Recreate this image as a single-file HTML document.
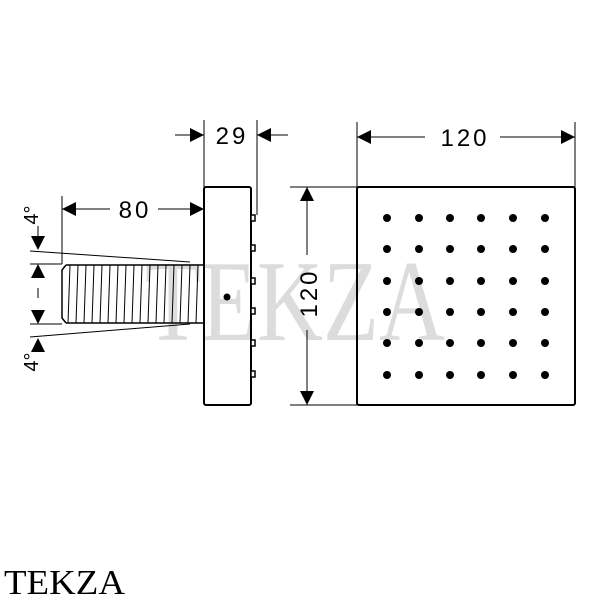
<!DOCTYPE html>
<html><head><meta charset="utf-8"><style>html,body{margin:0;padding:0;background:#fff}</style></head><body>
<svg width="600" height="600" viewBox="0 0 600 600" xmlns="http://www.w3.org/2000/svg" font-family="Liberation Sans, sans-serif">
<defs>
<marker id="a" viewBox="0 0 10 10" refX="10" refY="5" markerWidth="14" markerHeight="14" markerUnits="userSpaceOnUse" orient="auto"><path d="M0,0 L10,5 L0,10 z" fill="#000"/></marker>
<g id="r"><circle cx="387" cy="0" r="4"/><circle cx="419" cy="0" r="4"/><circle cx="450" cy="0" r="4"/><circle cx="481" cy="0" r="4"/><circle cx="513" cy="0" r="4"/><circle cx="545" cy="0" r="4"/></g>
</defs>
<!-- watermark -->
<text x="145" y="340" font-family="Liberation Serif, serif" font-size="115" fill="#dcdcdc" textLength="300" lengthAdjust="spacingAndGlyphs">TEKZA</text>
<g stroke="#000" fill="none" stroke-width="1">
<rect x="204" y="187" width="47" height="218" rx="2" stroke-width="2"/>
<g stroke-width="1.5" fill="#fff">
<rect x="251" y="215" width="4" height="6"/><rect x="251" y="245" width="4" height="6"/><rect x="251" y="278" width="4" height="6"/><rect x="251" y="308" width="4" height="6"/><rect x="251" y="340" width="4" height="6"/><rect x="251" y="371" width="4" height="6"/>
</g>
<path d="M66,265 L204,265 M66,323 L204,323 M66,265 L62,270 L62,318 L66,323" stroke-width="1.5"/>
<path d="M70,265 L68,323 M78,265 L76,323 M86,265 L84,323 M94,265 L92,323 M102,265 L100,323 M110,265 L108,323 M118,265 L116,323 M126,265 L124,323 M134,265 L132,323 M142,265 L140,323 M150,265 L148,323 M158,265 L156,323 M166,265 L164,323 M174,265 L172,323 M182,265 L180,323 M190,265 L188,323 M198,265 L196,323"/>
<path d="M30,251 L190,262 M30,337 L190,324"/>
<path d="M30,264 L62,264 M30,324 L62,324"/>
<path d="M38,226 L38,236 M38,288 L38,298"/>
<path d="M62,196 L62,264"/>
<line x1="110" y1="209" x2="62" y2="209" marker-end="url(#a)"/>
<line x1="158" y1="209" x2="204" y2="209" marker-end="url(#a)"/>
<path d="M204,120 L204,187 M257,120 L257,215"/>
<line x1="175" y1="135" x2="204" y2="135" marker-end="url(#a)"/>
<line x1="288" y1="135" x2="257" y2="135" marker-end="url(#a)"/>
<rect x="357" y="187" width="218" height="218" rx="2" stroke-width="2"/>
<path d="M357,122 L357,187 M575,122 L575,187"/>
<line x1="425" y1="137" x2="357" y2="137" marker-end="url(#a)"/>
<line x1="500" y1="137" x2="575" y2="137" marker-end="url(#a)"/>
<path d="M290,187 L357,187 M290,405 L357,405"/>
<line x1="307" y1="255" x2="307" y2="187" marker-end="url(#a)"/>
<line x1="307" y1="330" x2="307" y2="405" marker-end="url(#a)"/>
</g>
<g fill="#000">
<path d="M31,236 L45,236 L38,250 z"/>
<path d="M31,278 L45,278 L38,264 z"/>
<path d="M31,310 L45,310 L38,324 z"/>
<path d="M31,352 L45,352 L38,338 z"/>
<circle cx="227" cy="297" r="3.5"/>
</g>
<g fill="#000">
<use href="#r" y="218"/><use href="#r" y="249"/><use href="#r" y="281"/><use href="#r" y="312"/><use href="#r" y="343"/><use href="#r" y="375"/>
</g>
<g font-size="24" fill="#000" text-anchor="middle" letter-spacing="3">
<text x="232" y="144">29</text>
<text x="135" y="218">80</text>
<text x="465" y="146">120</text>
<text transform="translate(317,293) rotate(-90)">120</text>
<text transform="translate(38,215) rotate(-90)" font-size="20" letter-spacing="0">4°</text>
<text transform="translate(38,362) rotate(-90)" font-size="20" letter-spacing="0">4°</text>
</g>
<text x="4" y="594" font-family="Liberation Serif, serif" font-size="35" fill="#000" textLength="121" lengthAdjust="spacingAndGlyphs">TEKZA</text>
</svg>
</body></html>
